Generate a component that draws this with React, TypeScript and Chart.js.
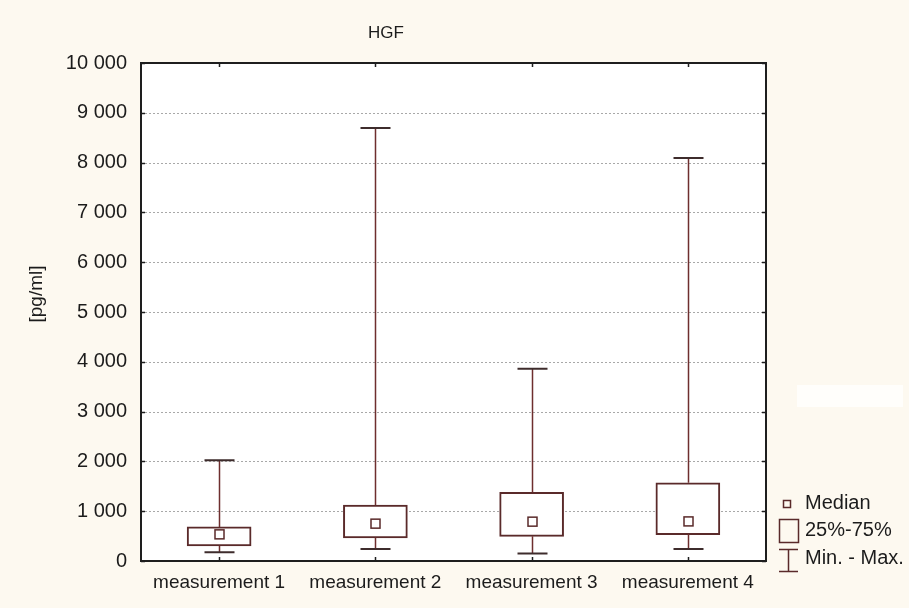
import React, { useEffect, useRef } from 'react';
import { Chart, registerables } from 'chart.js';

Chart.register(...registerables);

const categories = ['measurement 1', 'measurement 2', 'measurement 3', 'measurement 4'];
const minValues = [175, 240, 150, 240];
const q1Values = [305, 465, 495, 530];
const medianValues = [535, 750, 790, 795];
const q3Values = [685, 1125, 1380, 1570];
const maxValues = [2025, 8695, 3860, 8090];

const yMin = 0;
const yMax = 10000;
const yStep = 1000;

const chartTitle = 'HGF';
const yAxisTitle = '[pg/ml]';
const legendLabels = ['Median', '25%-75%', 'Min. - Max.'];

const FONT = '"Liberation Sans", Arial, Helvetica, sans-serif';
const INK = '#5a2a2a';
const TEXT = '#1c1c1c';

function fmt(v: number): string {
  return String(v).replace(/\B(?=(\d{3})+(?!\d))/g, ' ');
}

const decorPlugin = {
  id: 'boxDecor',
  beforeDraw(chart: any) {
    const { ctx, chartArea: a, width, height } = chart;
    ctx.save();
    ctx.fillStyle = '#fdf9f0';
    ctx.fillRect(0, 0, width, height);
    ctx.fillStyle = '#ffffff';
    ctx.fillRect(a.left, a.top, a.right - a.left, a.bottom - a.top);
    ctx.fillStyle = '#fffefb';
    ctx.fillRect(797, 385, 106, 22);
    ctx.restore();
  },
  beforeDatasetsDraw(chart: any) {
    const { ctx, chartArea: a } = chart;
    const y = chart.scales.y;
    ctx.save();
    ctx.strokeStyle = '#a8a8a8';
    ctx.lineWidth = 1;
    ctx.setLineDash([2, 2]);
    for (let v = yMin + yStep; v < yMax; v += yStep) {
      const py = Math.round(y.getPixelForValue(v)) + 0.5;
      ctx.beginPath();
      ctx.moveTo(a.left, py);
      ctx.lineTo(a.right, py);
      ctx.stroke();
    }
    ctx.restore();
  },
  afterDatasetsDraw(chart: any) {
    const { ctx } = chart;
    const x = chart.scales.x;
    const y = chart.scales.y;
    ctx.save();
    categories.forEach((_, i) => {
      const cx = Math.round(x.getPixelForValue(i)) + 0.5;
      const pMax = y.getPixelForValue(maxValues[i]);
      const pMin = y.getPixelForValue(minValues[i]);
      const pQ1 = y.getPixelForValue(q1Values[i]);
      const pQ3 = y.getPixelForValue(q3Values[i]);
      const pMed = y.getPixelForValue(medianValues[i]);
      ctx.strokeStyle = '#6e2e2e';
      ctx.lineWidth = 1.5;
      ctx.beginPath();
      ctx.moveTo(cx, pMax);
      ctx.lineTo(cx, pQ3);
      ctx.moveTo(cx, pQ1);
      ctx.lineTo(cx, pMin);
      ctx.stroke();
      ctx.strokeStyle = '#3e2c2c';
      ctx.lineWidth = 2;
      ctx.beginPath();
      ctx.moveTo(cx - 15, pMax);
      ctx.lineTo(cx + 15, pMax);
      ctx.moveTo(cx - 15, pMin);
      ctx.lineTo(cx + 15, pMin);
      ctx.stroke();
      ctx.strokeStyle = INK;
      ctx.lineWidth = 1.5;
      ctx.fillStyle = '#ffffff';
      ctx.fillRect(cx - 4.5, pMed - 4.5, 9, 9);
      ctx.strokeRect(cx - 4.5, pMed - 4.5, 9, 9);
    });
    ctx.restore();
  },
  afterDraw(chart: any) {
    const { ctx, chartArea: a } = chart;
    const x = chart.scales.x;
    const y = chart.scales.y;
    ctx.save();
    ctx.strokeStyle = '#1e1e1e';
    ctx.lineWidth = 2;
    ctx.strokeRect(a.left, a.top, a.right - a.left, a.bottom - a.top);
    ctx.lineWidth = 1.5;
    ctx.beginPath();
    for (let v = yMin; v <= yMax; v += yStep) {
      const py = Math.round(y.getPixelForValue(v)) + 0.5;
      ctx.moveTo(a.left, py);
      ctx.lineTo(a.left + 4, py);
      ctx.moveTo(a.right - 4, py);
      ctx.lineTo(a.right, py);
    }
    categories.forEach((_, i) => {
      const px = Math.round(x.getPixelForValue(i)) + 0.5;
      ctx.moveTo(px, a.top);
      ctx.lineTo(px, a.top + 4);
      ctx.moveTo(px, a.bottom - 4);
      ctx.lineTo(px, a.bottom);
    });
    ctx.stroke();

    ctx.fillStyle = TEXT;
    ctx.font = `17px ${FONT}`;
    ctx.textAlign = 'center';
    ctx.textBaseline = 'middle';
    ctx.fillText(chartTitle, 386, 33);

    ctx.save();
    ctx.translate(37, 294);
    ctx.rotate(-Math.PI / 2);
    ctx.font = `19px ${FONT}`;
    ctx.fillText(yAxisTitle, 0, 0);
    ctx.restore();

    ctx.strokeStyle = INK;
    ctx.lineWidth = 1.5;
    ctx.strokeRect(783.5, 500.5, 7, 7);
    ctx.strokeRect(779.5, 519.5, 19, 23);
    ctx.beginPath();
    ctx.moveTo(779, 549.5);
    ctx.lineTo(798, 549.5);
    ctx.moveTo(788.5, 549.5);
    ctx.lineTo(788.5, 571.5);
    ctx.moveTo(779, 571.5);
    ctx.lineTo(798, 571.5);
    ctx.stroke();
    ctx.fillStyle = TEXT;
    ctx.font = `20px ${FONT}`;
    ctx.textAlign = 'left';
    ctx.textBaseline = 'middle';
    const ys = [503, 530, 558];
    legendLabels.forEach((t, i) => ctx.fillText(t, 805, ys[i]));
    ctx.restore();
  },
};

export default function App() {
  const ref = useRef<HTMLCanvasElement | null>(null);
  useEffect(() => {
    document.body.style.margin = '0';
    document.body.style.background = '#fdf9f0';
    const canvas = ref.current;
    if (!canvas) return;
    const chart = new Chart(canvas, {
      type: 'bar',
      data: {
        labels: categories,
        datasets: [
          {
            data: categories.map((_, i) => [q1Values[i], q3Values[i]]) as any,
            backgroundColor: '#ffffff',
            borderColor: INK,
            borderWidth: 2,
            borderSkipped: false,
            barThickness: 64,
          },
        ],
      },
      options: {
        animation: false,
        responsive: false,
        maintainAspectRatio: false,
        layout: { padding: { left: 0, top: 63, right: 143, bottom: 0 } },
        plugins: {
          legend: { display: false },
          tooltip: { enabled: false },
          title: { display: false },
        },
        scales: {
          x: {
            grid: { display: false, drawTicks: false },
            border: { display: false },
            ticks: {
              color: TEXT,
              font: { family: FONT, size: 19 },
              padding: 10,
              maxRotation: 0,
              autoSkip: false,
            },
            afterFit(scale: any) {
              scale.height = 47;
            },
          },
          y: {
            min: yMin,
            max: yMax,
            grid: { display: false, drawTicks: false },
            border: { display: false },
            ticks: {
              stepSize: yStep,
              color: TEXT,
              font: { family: FONT, size: 20 },
              padding: 14,
              callback: (v: any) => fmt(Number(v)),
            },
            afterFit(scale: any) {
              scale.width = 141;
            },
          },
        },
      },
      plugins: [decorPlugin],
    });
    return () => chart.destroy();
  }, []);
  return (
    <div style={{ width: 909, height: 608 }}>
      <canvas ref={ref} width={909} height={608} style={{ display: 'block', width: 909, height: 608 }} />
    </div>
  );
}
